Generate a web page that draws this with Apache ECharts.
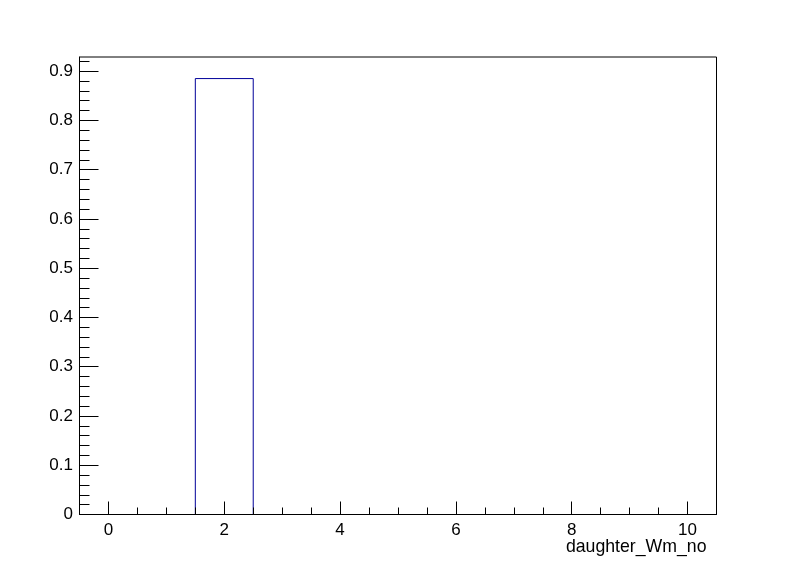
<!DOCTYPE html>
<html>
<head>
<meta charset="utf-8">
<script src="https://cdn.jsdelivr.net/npm/echarts@6/dist/echarts.min.js"></script>
<style>html,body{margin:0;padding:0;background:#fff}#c{width:796px;height:572px}</style>
</head>
<body>
<div id="c"></div>
<script>
// Histogram data: bin centres (width 1) and contents
const binCenters = [0, 1, 2, 3, 4, 5, 6, 7, 8, 9, 10];
const binValues  = [0, 0, 0.885, 0, 0, 0, 0, 0, 0, 0, 0];
const binWidth = 1;
const xMajorTicks = [0, 2, 4, 6, 8, 10];
const xMinorTicks = [0.5, 1, 1.5, 2.5, 3, 3.5, 4.5, 5, 5.5, 6.5, 7, 7.5, 8.5, 9, 9.5];
const yMajorTicks = [0, 0.1, 0.2, 0.3, 0.4, 0.5, 0.6, 0.7, 0.8, 0.9];
const yMinorTicks = [0.02,0.04,0.06,0.08,0.12,0.14,0.16,0.18,0.22,0.24,0.26,0.28,0.32,0.34,0.36,0.38,
  0.42,0.44,0.46,0.48,0.52,0.54,0.56,0.58,0.62,0.64,0.66,0.68,0.72,0.74,0.76,0.78,0.82,0.84,0.86,0.88,0.92];
const xTitle = 'daughter_Wm_no';
const xMin = -0.5, xMax = 10.5, yMin = 0, yMax = 0.9288;

const FONT = '"Liberation Sans", Arial, sans-serif';
const chart = echarts.init(document.getElementById('c'), null, {renderer: 'canvas'});

const blank = {show: false};
const option = {
  animation: false,
  backgroundColor: '#ffffff',
  grid: {left: 79.5, right: 79.5, top: 57, bottom: 57.5, show: true, borderColor: '#000', borderWidth: 1, backgroundColor: 'transparent'},
  xAxis: [
    {type: 'value', min: xMin, max: xMax, z: 10,
     axisLine: {show: true, onZero: false, lineStyle: {color: '#000', width: 1}},
     axisTick: {show: true, inside: true, length: 13, customValues: xMajorTicks, lineStyle: {color: '#000'}},
     axisLabel: {show: true, customValues: xMajorTicks, margin: 7, color: '#000', fontFamily: FONT, fontSize: 17},
     splitLine: blank,
     name: xTitle, nameLocation: 'end', nameGap: -10,
     nameTextStyle: {color: '#000', fontFamily: FONT, fontSize: 17.7, align: 'right', verticalAlign: 'top', padding: [24, 0, 0, 0]}},
    {type: 'value', min: xMin, max: xMax, position: 'bottom', offset: 0, z: 10,
     axisLine: {show: false, onZero: false},
     axisTick: {show: true, inside: true, length: 7, customValues: xMinorTicks, lineStyle: {color: '#000'}},
     axisLabel: blank, splitLine: blank}
  ],
  yAxis: [
    {type: 'value', min: yMin, max: yMax, z: 10,
     axisLine: {show: true, onZero: false, lineStyle: {color: '#000', width: 1}},
     axisTick: {show: true, inside: true, length: 19, customValues: yMajorTicks, lineStyle: {color: '#000'}},
     axisLabel: {show: true, customValues: yMajorTicks, margin: 6.5, color: '#000', fontFamily: FONT, fontSize: 17,
                 formatter: v => String(Math.round(v * 10) / 10)},
     splitLine: blank},
    {type: 'value', min: yMin, max: yMax, position: 'left', offset: 0, z: 10,
     axisLine: {show: false, onZero: false},
     axisTick: {show: true, inside: true, length: 10, customValues: yMinorTicks, lineStyle: {color: '#000'}},
     axisLabel: blank, splitLine: blank}
  ],
  series: [{
    type: 'custom',
    xAxisIndex: 0, yAxisIndex: 0, z: 1,
    data: binCenters.map((c, i) => [c, binValues[i]]),
    renderItem: function (params, api) {
      const c = api.value(0), v = api.value(1);
      const p0 = api.coord([c - binWidth / 2, 0]);
      const p1 = api.coord([c - binWidth / 2, v]);
      const p2 = api.coord([c + binWidth / 2, v]);
      const p3 = api.coord([c + binWidth / 2, 0]);
      return {type: 'polyline', shape: {points: [p0, p1, p2, p3]},
              style: {stroke: '#000099', lineWidth: 1, fill: null}};
    }
  }]
};
chart.setOption(option);
</script>
</body>
</html>
